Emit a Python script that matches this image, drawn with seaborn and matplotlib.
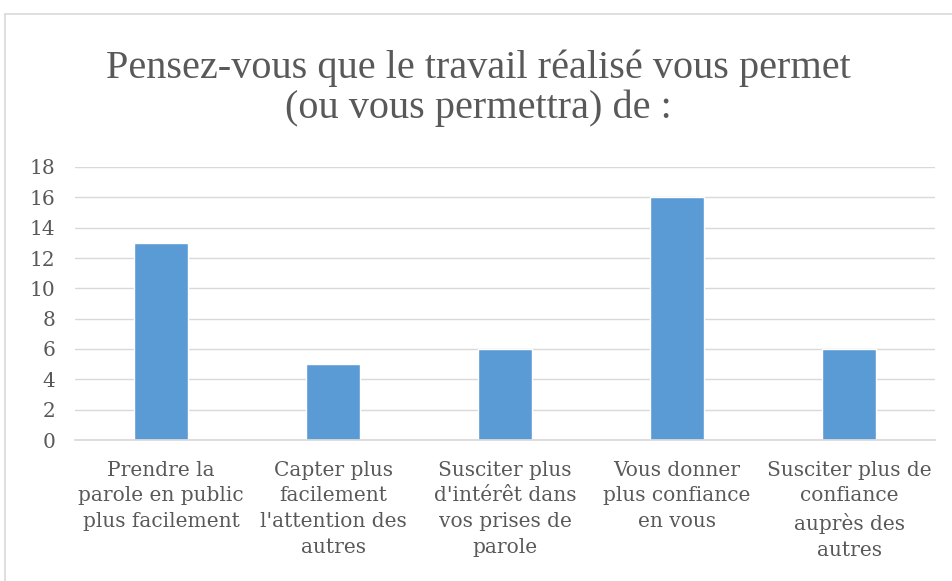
import matplotlib
matplotlib.use("Agg")
import matplotlib.pyplot as plt
from matplotlib.lines import Line2D
import seaborn as sns
import pandas as pd

# data
categories = [
    "Prendre la\nparole en public\nplus facilement",
    "Capter plus\nfacilement\nl'attention des\nautres",
    "Susciter plus\nd'intérêt dans\nvos prises de\nparole",
    "Vous donner\nplus confiance\nen vous",
    "Susciter plus de\nconfiance\nauprès des\nautres",
]
values = [13, 5, 6, 16, 6]
yticks = list(range(0, 20, 2))

title = "Pensez-vous que le travail réalisé vous permet\n(ou vous permettra) de :"

sns.set_theme(style="white")
plt.rcParams["font.family"] = ["DejaVu Serif"]

TEXT = "#595959"
GRID = "#D9D9D9"
BAR = "#5B9BD5"

W, H = 952, 581
fig = plt.figure(figsize=(W / 100, H / 100), dpi=100)

# chart frame
fig.add_artist(Line2D([5 / W, 5 / W], [0, 1 - 14 / H], color=GRID, lw=1.2))
fig.add_artist(Line2D([5 / W, 1], [1 - 14 / H, 1 - 14 / H], color=GRID, lw=1.2))

ax = fig.add_axes([75 / W, 1 - 440 / H, 860 / W, 273 / H])

df = pd.DataFrame({"cat": categories, "val": values})
sns.barplot(data=df, x="cat", y="val", color=BAR, saturation=1,
            width=0.314, ax=ax)

ax.set_ylim(0, 18)
ax.set_yticks(yticks)
ax.set_xlim(-0.5, len(categories) - 0.5)
ax.yaxis.grid(True, color=GRID, lw=1)
ax.set_axisbelow(True)
for s in ["top", "right", "left"]:
    ax.spines[s].set_visible(False)
ax.spines["bottom"].set_color(GRID)
ax.set_xlabel("")
ax.set_ylabel("")
ax.tick_params(axis="y", labelsize=14.5, labelcolor=TEXT, length=0, pad=14)
ax.tick_params(axis="x", labelsize=14.5, labelcolor=TEXT, length=0, pad=15)
for lab in ax.get_xticklabels():
    lab.set_linespacing(1.44)
    lab.set_verticalalignment("top")

fig.text(478 / W, 1 - 88 / H, title, ha="center", va="center",
         fontsize=29, color=TEXT, family=["Liberation Serif"],
         linespacing=1.08)

fig.savefig("out.png", dpi=100)
